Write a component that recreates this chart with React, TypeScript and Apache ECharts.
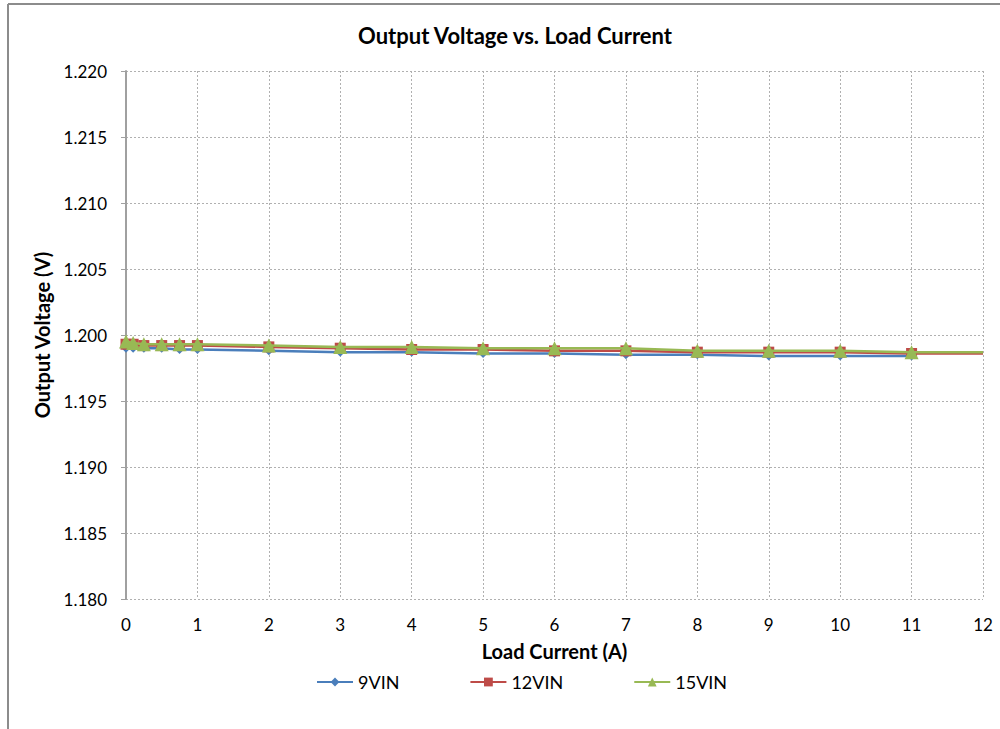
import React, { useEffect, useRef } from "react";
import * as echarts from "echarts";

const xCurrent = [0, 0.1, 0.25, 0.5, 0.75, 1, 2, 3, 4, 5, 6, 7, 8, 9, 10, 11, 12];
const v9 = [1.1990, 1.1990, 1.1990, 1.1990, 1.1989, 1.1989, 1.1988, 1.1987, 1.1987, 1.1986, 1.1986, 1.1985, 1.1985, 1.1984, 1.1984, 1.1984];
const v12 = [1.1993, 1.1993, 1.1992, 1.1992, 1.1992, 1.1992, 1.1991, 1.1990, 1.1989, 1.1989, 1.1988, 1.1988, 1.1987, 1.1987, 1.1987, 1.1986, 1.1986];
const v15 = [1.1995, 1.1994, 1.1993, 1.1993, 1.1993, 1.1993, 1.1992, 1.1991, 1.1991, 1.1990, 1.1990, 1.1990, 1.1988, 1.1988, 1.1988, 1.1987, 1.1987];
const seriesNames = ["9VIN", "12VIN", "15VIN"];
const colors = ["#4A7EBB", "#BE4B48", "#98B954"];
const markers = ["diamond", "rect", "triangle"];
const markerSizes = [9, 11, 14];

const FONT = "Lato, 'Open Sans', sans-serif";

export default function App() {
  const ref = useRef<HTMLDivElement>(null);
  useEffect(() => {
    if (!ref.current) return;
    const chart = echarts.init(ref.current, null, { renderer: "svg" });
    const all = [v9, v12, v15];
    const series = all.map((vals, si) => ({
      name: seriesNames[si],
      type: "line",
      symbol: markers[si],
      symbolSize: markerSizes[si],
      z: 2 + si,
      lineStyle: { color: colors[si], width: 2.5 },
      itemStyle: { color: colors[si] },
      data: vals.map((v, i) =>
        xCurrent[i] === 12 ? { value: [xCurrent[i], v], symbol: "none" } : [xCurrent[i], v]
      ),
    }));
    chart.setOption({
      animation: false,
      backgroundColor: "#fff",
      textStyle: { fontFamily: FONT },
      title: {
        text: "Output Voltage vs. Load Current",
        left: 510,
        textAlign: "center",
        top: 19,
        textStyle: { fontSize: 22, fontWeight: "bold", color: "#000", fontFamily: FONT },
      },
      legend: {
        bottom: 33,
        left: 311,
        itemGap: 70,
        itemWidth: 36,
        itemHeight: 11,
        textStyle: { fontSize: 18, color: "#000", fontFamily: FONT },
        data: seriesNames,
      },
      grid: { left: 126, right: 17, top: 71, bottom: 130 },
      xAxis: {
        type: "value",
        min: 0,
        max: 12,
        interval: 1,
        name: "Load Current (A)",
        nameLocation: "middle",
        nameGap: 42,
        nameTextStyle: { fontSize: 20, fontWeight: "bold", color: "#000", fontFamily: FONT },
        axisLine: { show: false },
        axisTick: { show: false },
        axisLabel: { fontSize: 17, color: "#000", margin: 17, fontFamily: FONT },
        splitLine: { show: true, lineStyle: { color: "#b0b0b0", type: [2, 2], width: 1 } },
      },
      yAxis: {
        type: "value",
        min: 1.18,
        max: 1.22,
        interval: 0.005,
        name: "Output Voltage (V)",
        nameLocation: "middle",
        nameGap: 74,
        nameTextStyle: { fontSize: 20, fontWeight: "bold", color: "#000", fontFamily: FONT },
        axisLine: { show: true, lineStyle: { color: "#a0a0a0", width: 2 } },
        axisTick: { show: true, length: 5, lineStyle: { color: "#a0a0a0" } },
        axisLabel: {
          fontSize: 17,
          color: "#000",
          margin: 19,
          fontFamily: FONT,
          formatter: (v: number) => v.toFixed(3),
        },
        splitLine: { show: true, lineStyle: { color: "#b0b0b0", type: [2, 2], width: 1 } },
      },
      graphic: [
        { type: "line", shape: { x1: 8, y1: 4, x2: 1000, y2: 4 }, style: { stroke: "#8c8c8c", lineWidth: 2 } },
        { type: "line", shape: { x1: 8, y1: 4, x2: 8, y2: 729 }, style: { stroke: "#8c8c8c", lineWidth: 2 } },
      ],
      series,
    });
    return () => chart.dispose();
  }, []);
  return (
    <div
      ref={ref}
      style={{ position: "absolute", left: 0, top: 0, width: 1000, height: 729 }}
    />
  );
}
